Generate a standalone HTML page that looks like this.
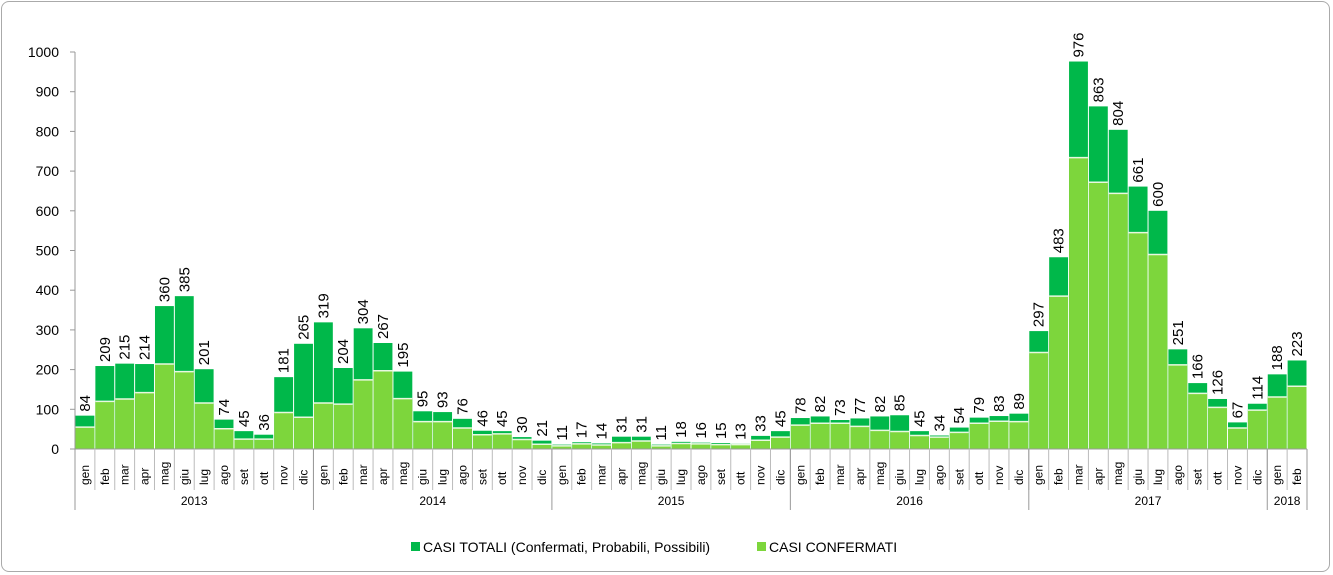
<!DOCTYPE html>
<html><head><meta charset="utf-8">
<style>
html,body{margin:0;padding:0;background:#fff;}
body{width:1333px;height:575px;overflow:hidden;font-family:"Liberation Sans",sans-serif;}
#frame{position:absolute;left:1px;top:1px;width:1329px;height:571px;border:1px solid #aaa;border-radius:8px;box-sizing:border-box;}
</style></head><body>
<div id="frame"></div>
<svg id="chart" width="1333" height="575" style="position:absolute;left:0;top:0;font-family:'Liberation Sans',sans-serif;"></svg>
<script>
const years=["2013","2014","2015","2016","2017","2018"];
const monthsPerYear=[12,12,12,12,12,2];
const monthNames=["gen","feb","mar","apr","mag","giu","lug","ago","set","ott","nov","dic"];
const totals=[84,209,215,214,360,385,201,74,45,36,181,265,
319,204,304,267,195,95,93,76,46,45,30,21,
11,17,14,31,31,11,18,16,15,13,33,45,
78,82,73,77,82,85,45,34,54,79,83,89,
297,483,976,863,804,661,600,251,166,126,67,114,
188,223];
const confirmed=[55,120,126,142,214,195,116,51,25,25,92,80,
116,113,174,197,127,69,69,53,36,38,24,12,
8,13,10,16,20,8,14,13,11,11,22,30,
60,65,65,57,47,44,34,30,42,65,70,69,
243,385,734,672,644,545,490,212,140,105,53,98,
131,158];
const yTicks=[0,100,200,300,400,500,600,700,800,900,1000];

const NS="http://www.w3.org/2000/svg";
const svg=document.getElementById('chart');
const X0=75,X1=1307,Y0=449,Y1=52,N=totals.length;
const bw=(X1-X0)/N;
function y(v){return Y0-(v/1000)*(Y0-Y1);}
function x(i){return X0+i*bw;}
function mk(tag,attrs,txt){const e=document.createElementNS(NS,tag);for(const k in attrs)e.setAttribute(k,attrs[k]);if(txt!==undefined)e.textContent=txt;svg.appendChild(e);return e;}

// y axis
let ax=mk('line',{x1:X0,y1:Y1,x2:X0,y2:Y0,stroke:'#999','stroke-width':1});


yTicks.forEach(t=>{
  const tk=mk('line',{x1:X0-5,y1:y(t),x2:X0,y2:y(t),stroke:'#999'});
  
  
  const lb=mk('text',{x:59,y:y(t)+5,'text-anchor':'end','font-size':14,fill:'#000'},t);
  
  
});

// bars
totals.forEach((tv,i)=>{
  const bx=x(i)+0.5,w=bw-1;
  const r1=mk('rect',{x:bx,y:y(tv),width:w,height:Y0-y(tv),fill:'#00b84a'});
  
  
  const cv=confirmed[i];
  const r2=mk('rect',{x:bx,y:y(cv),width:w,height:Y0-y(cv),fill:'#7dd63c',stroke:'#fff','stroke-width':0});
  
  
  const sep=mk('line',{x1:bx,x2:bx+w,y1:y(cv),y2:y(cv),stroke:'#e8f8e0','stroke-width':1.5});
  
  
  const cx=x(i)+bw/2+5, ty=y(tv)-4;
  const vl=mk('text',{x:cx,y:ty,transform:`rotate(-90 ${cx} ${ty})`,'font-size':15,fill:'#000'},tv);
  
  
});

// x axis
let xa=mk('line',{x1:X0,y1:Y0,x2:X1,y2:Y0,stroke:'#999'});


let idx=0;
years.forEach((yr,yi)=>{
  const start=idx;
  for(let m=0;m<monthsPerYear[yi];m++){
    const i=idx;
    const tk=mk('line',{x1:x(i),y1:Y0,x2:x(i),y2:490,stroke:'#bbb'});
    
    
    const cx=x(i)+bw/2+4, ty=485;
    const ml=mk('text',{x:cx,y:ty,transform:`rotate(-90 ${cx} ${ty})`,'font-size':12,fill:'#000'},monthNames[m]);
    
    
    idx++;
  }
  const ys=mk('line',{x1:x(start),y1:Y0,x2:x(start),y2:510,stroke:'#999'});
  
  
  const yl=mk('text',{x:(x(start)+x(idx))/2,y:505,'text-anchor':'middle','font-size':12,fill:'#000'},yr);
  
  
});
const ye=mk('line',{x1:X1,y1:Y0,x2:X1,y2:510,stroke:'#999'});



// legend
const l1=mk('rect',{x:411,y:542,width:9,height:9,fill:'#00b84a'});


const t1=mk('text',{x:423,y:552,'font-size':14,fill:'#000'},'CASI TOTALI (Confermati, Probabili, Possibili)');


const l2=mk('rect',{x:757,y:542,width:9,height:9,fill:'#7dd63c'});


const t2=mk('text',{x:769,y:552,'font-size':14,fill:'#000'},'CASI CONFERMATI');


</script>
</body></html>
